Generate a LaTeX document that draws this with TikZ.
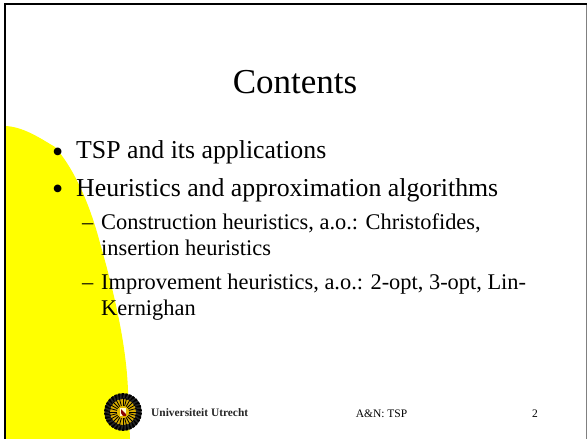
\documentclass[tikz,border=0pt]{standalone}
\usepackage{fontspec}
\setmainfont{Liberation Serif}
\definecolor{hl}{RGB}{255,255,0}
\tikzset{
  txt/.style={anchor=base west,inner sep=0pt,text=black},
  big/.style={txt,font=\fontsize{25.8}{30}\selectfont},
  bul/.style={txt,font=\fontsize{32}{36}\selectfont},
  small/.style={txt,font=\fontsize{22.4}{26}\selectfont},
  foot/.style={anchor=base,inner sep=0pt,font=\fontsize{11.5}{13}\selectfont},
}
\begin{document}
\begin{tikzpicture}[x=1pt,y=-1pt]
\useasboundingbox (0,0) rectangle (587,439);
\fill[white] (0,0) rectangle (587,439);
\fill[hl] (4,126) .. controls (22,126) and (40,138) .. (55,147)
  .. controls (75,170) and (90,205) .. (100,243)
  .. controls (112,285) and (126,340) .. (128,390)
  -- (130,439) -- (4,439) -- cycle;
% frame
\draw[black,line width=2pt] (4.6,439) -- (4.6,4.3) -- (587,4.3);
\draw[gray,line width=1.2pt] (586.4,5.3) -- (586.4,439);
% logo
\fill[black!85] (123,412) circle (18.5);
\foreach \a in {0,12,...,348} \fill[black] (123,412) ++(\a:12) -- ++(\a+6:7) -- ++(\a+100:2.6) -- cycle;
\fill[hl!60!orange!85!black] (123,412) circle (13);
\foreach \a in {0,15,...,345} \draw[black,line width=.8pt] (123,412) ++(\a:6) -- ++(\a:8);
\fill[hl!65!orange!90!black] (123,412) circle (6);
\fill[white!80!yellow] (120,408) rectangle (126,416);
\fill[red!55!black] (121,409) -- (126,414) -- (126,416) -- (123,416) -- (121,413) -- cycle;
% texts
\node[anchor=base,inner sep=0pt,font=\fontsize{35}{40}\selectfont] (title) at (295,93) {Contents};
\node[bul] (b1bul) at (52,162) {•};
\node[big] (b1) at (76,158) {TSP and its applications};
\node[bul] (b2bul) at (52,199) {•};
\node[big] (b2) at (76,196) {Heuristics and approximation algorithms};
\node[small] (s1d) at (82,229) {–};
\node[small] (s1) at (101,229) {Construction heuristics, a.o.: Christofides,};
\node[small] (s1b) at (101,255) {insertion heuristics};
\node[small] (s2d) at (82,289) {–};
\node[small] (s2) at (101,289) {Improvement heuristics, a.o.: 2-opt, 3-opt, Lin-};
\node[small] (s2b) at (101,315) {Kernighan};
\node[anchor=base west,inner sep=0pt,font=\fontsize{11.4}{13}\selectfont\bfseries,text=black!85] (uu) at (151,416) {Universiteit Utrecht};
\node[foot] (an) at (381.5,417) {A\&N: TSP};
\node[foot] (pg) at (535,417) {2};
\end{tikzpicture}
\end{document}
